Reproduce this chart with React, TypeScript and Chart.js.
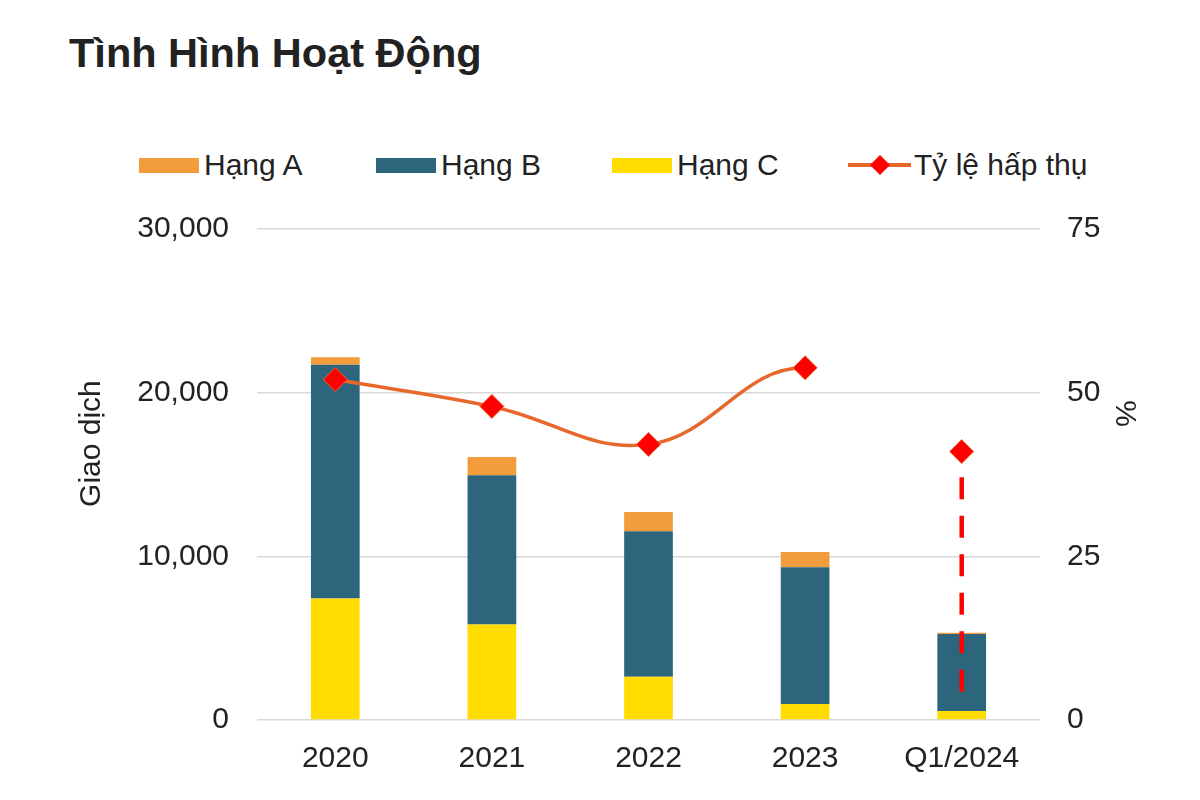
import React, { useEffect, useRef } from "react";
import { Chart, registerables } from "chart.js";

Chart.register(...registerables);

const title = "Tình Hình Hoạt Động";
const categories = ["2020", "2021", "2022", "2023", "Q1/2024"];
const hangA = [470, 1115, 1180, 935, 80];
const hangB = [14280, 9110, 8890, 8360, 4700];
const hangC = [7420, 5840, 2640, 975, 550];
const absorption = [52.0, 47.9, 42.1, 53.8, 41.0];
const q1DashLow = 4.3;
const leftTicks = [0, 10000, 20000, 30000];
const rightTicks = [0, 25, 50, 75];
const leftTitle = "Giao dịch";
const rightTitle = "%";

const COLOR_A = "#F29C3B";
const COLOR_B = "#2D657D";
const COLOR_C = "#FFDD00";
const COLOR_LINE = "#E8682C";
const COLOR_MARK = "#FF0000";
const TEXT = "#222222";
const FONT = "'Liberation Sans', Arial, sans-serif";

const legendItems = [
  { label: "Hạng A", color: COLOR_A, kind: "box", left: 139 },
  { label: "Hạng B", color: COLOR_B, kind: "box", left: 376 },
  { label: "Hạng C", color: COLOR_C, kind: "box", left: 612 },
  { label: "Tỷ lệ hấp thụ", color: COLOR_LINE, kind: "line", left: 848 },
];

const axisTitlePlugin = {
  id: "axisTitles",
  afterDraw(chart: any) {
    const { ctx, chartArea } = chart;
    const h = chartArea.bottom - chartArea.top;
    ctx.save();
    ctx.fillStyle = TEXT;
    ctx.font = `30px ${FONT}`;
    ctx.textAlign = "center";
    ctx.textBaseline = "middle";
    ctx.translate(92, chartArea.top + h * 0.437);
    ctx.rotate(-Math.PI / 2);
    ctx.fillText(leftTitle, 0, 0);
    ctx.restore();
    ctx.save();
    ctx.fillStyle = TEXT;
    ctx.font = `30px ${FONT}`;
    ctx.textAlign = "center";
    ctx.textBaseline = "middle";
    ctx.translate(1124, chartArea.top + h * 0.376);
    ctx.rotate(Math.PI / 2);
    ctx.fillText(rightTitle, 0, 0);
    ctx.restore();
  },
};

function ChartCanvas() {
  const ref = useRef<HTMLCanvasElement | null>(null);
  useEffect(() => {
    if (!ref.current) return;
    const lastIdx = categories.length - 1;
    const chart = new Chart(ref.current, {
      type: "bar",
      data: {
        labels: categories,
        datasets: [
          {
            type: "line",
            label: "Tỷ lệ hấp thụ",
            data: absorption,
            yAxisID: "y1",
            borderColor: COLOR_LINE,
            borderWidth: 3.5,
            tension: 0.4,
            pointStyle: "rectRot",
            pointRadius: 12,
            pointBackgroundColor: COLOR_MARK,
            pointBorderColor: COLOR_LINE,
            pointBorderWidth: 1,
            segment: {
              borderColor: (ctx: any) =>
                ctx.p1DataIndex === lastIdx ? "rgba(0,0,0,0)" : COLOR_LINE,
            },
            order: 0,
          } as any,
          {
            type: "line",
            label: "Q1 dash",
            data: [
              { x: categories[lastIdx], y: q1DashLow },
              { x: categories[lastIdx], y: absorption[lastIdx] },
            ],
            yAxisID: "y1",
            borderColor: COLOR_MARK,
            borderWidth: 4.5,
            borderDash: [22, 16.5],
            pointRadius: 0,
            tension: 0,
            order: 1,
          } as any,
          {
            label: "Hạng C",
            data: hangC,
            backgroundColor: COLOR_C,
            yAxisID: "y",
            stack: "s",
            order: 2,
          },
          {
            label: "Hạng B",
            data: hangB,
            backgroundColor: COLOR_B,
            yAxisID: "y",
            stack: "s",
            order: 2,
          },
          {
            label: "Hạng A",
            data: hangA,
            backgroundColor: COLOR_A,
            yAxisID: "y",
            stack: "s",
            order: 2,
          },
        ],
      },
      options: {
        animation: false,
        responsive: false,
        maintainAspectRatio: false,
        layout: { padding: { top: 0, left: 0, right: 0, bottom: 0 } },
        datasets: {
          bar: { barPercentage: 0.311, categoryPercentage: 1, borderWidth: 0 },
        },
        plugins: {
          legend: { display: false },
          tooltip: { enabled: false },
        },
        scales: {
          x: {
            stacked: true,
            grid: { display: false, drawTicks: false },
            border: { display: false },
            ticks: {
              color: TEXT,
              font: { family: FONT, size: 30 },
              padding: 21,
              maxRotation: 0,
            },
            afterFit: (s: any) => {
              s.height = 80;
            },
          },
          y: {
            stacked: true,
            position: "left",
            min: leftTicks[0],
            max: leftTicks[leftTicks.length - 1],
            afterBuildTicks: (s: any) => {
              s.ticks = leftTicks.map((v) => ({ value: v }));
            },
            grid: { color: "#D9D9D9", lineWidth: 1.5, drawTicks: false },
            border: { display: false },
            ticks: {
              color: TEXT,
              font: { family: FONT, size: 30 },
              padding: 28,
              callback: (v: any) => Number(v).toLocaleString("en-US"),
            },
            afterFit: (s: any) => {
              s.width = 257;
            },
          },
          y1: {
            position: "right",
            min: rightTicks[0],
            max: rightTicks[rightTicks.length - 1],
            afterBuildTicks: (s: any) => {
              s.ticks = rightTicks.map((v) => ({ value: v }));
            },
            grid: { display: false, drawTicks: false },
            border: { display: false },
            ticks: {
              color: TEXT,
              font: { family: FONT, size: 30 },
              padding: 27,
            },
            afterFit: (s: any) => {
              s.width = 160;
            },
          },
        },
      },
      plugins: [axisTitlePlugin],
    } as any);
    return () => chart.destroy();
  }, []);
  return (
    <canvas
      ref={ref}
      width={1200}
      height={617}
      style={{ position: "absolute", left: 0, top: 183, width: 1200, height: 617 }}
    />
  );
}

export default function App() {
  return (
    <div
      style={{
        position: "fixed",
        left: 0,
        top: 0,
        width: 1200,
        height: 800,
        background: "#ffffff",
        fontFamily: FONT,
        color: TEXT,
      }}
    >
      <div
        style={{
          position: "absolute",
          left: 69,
          top: 33,
          fontSize: 41.5,
          lineHeight: "40px",
          fontWeight: "bold",
          whiteSpace: "nowrap",
        }}
      >
        {title}
      </div>
      {legendItems.map((it) => (
        <div
          key={it.label}
          style={{
            position: "absolute",
            left: it.left,
            top: 150,
            height: 30,
            display: "flex",
            alignItems: "center",
            whiteSpace: "nowrap",
          }}
        >
          {it.kind === "box" ? (
            <span
              style={{
                display: "inline-block",
                width: 60,
                height: 15,
                background: it.color,
                marginRight: 5,
              }}
            />
          ) : (
            <svg width={63} height={30} style={{ marginRight: 3 }}>
              <line x1={0} y1={15} x2={63} y2={15} stroke={COLOR_LINE} strokeWidth={4} />
              <polygon points="32,5 42,15 32,25 22,15" fill={COLOR_MARK} />
            </svg>
          )}
          <span style={{ fontSize: 30, lineHeight: "30px" }}>{it.label}</span>
        </div>
      ))}
      <ChartCanvas />
    </div>
  );
}
